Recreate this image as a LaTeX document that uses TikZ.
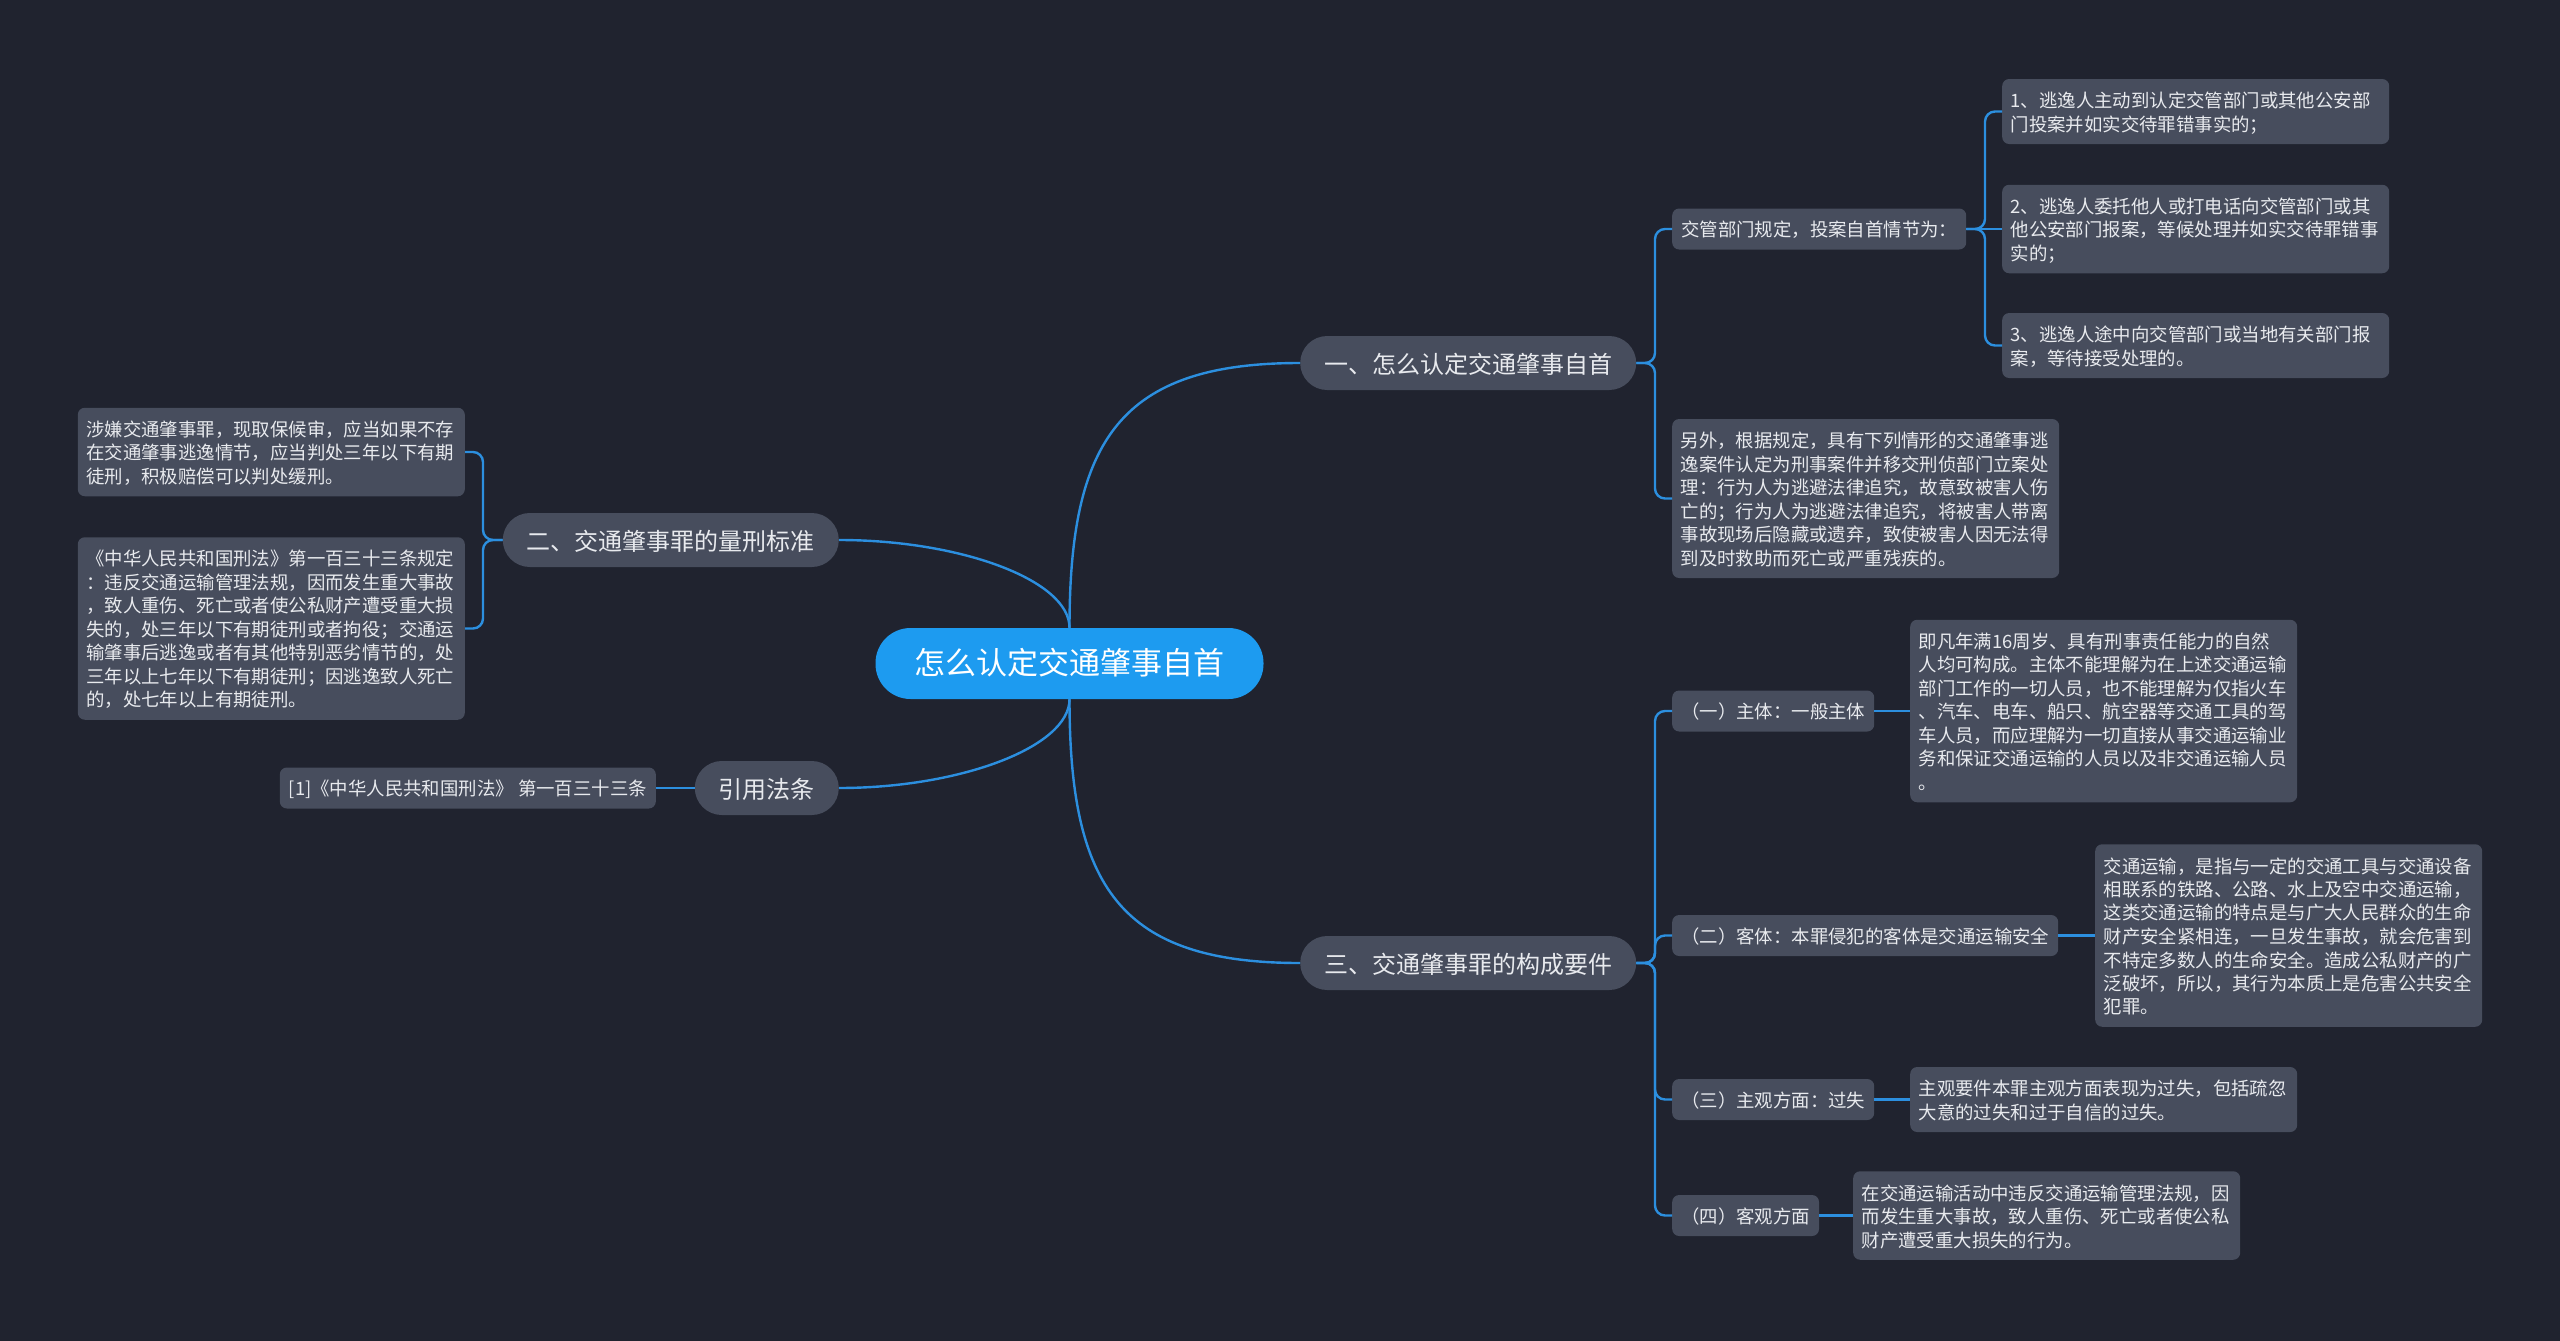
\documentclass[tikz,border=0pt]{standalone}
\usepackage{fontspec}
\setmainfont{Noto Sans CJK SC}
\definecolor{bg}{HTML}{20232F}
\definecolor{boxfill}{HTML}{474D5D}
\definecolor{centerfill}{HTML}{1D9BF0}
\definecolor{linec}{HTML}{2C8FDF}
\definecolor{txt}{HTML}{E8EAEE}
\newcommand\vstrut[2]{\vrule height #1\baselineskip depth #2\baselineskip width 0pt\relax}
\begin{document}
\begin{tikzpicture}[x=1pt,y=-1pt,
  connline/.style={draw=linec, line width=2.4pt, rounded corners=10pt},
  centerbox/.style={fill=centerfill, text=white, rounded corners=35pt, inner xsep=39pt, inner ysep=16.5pt, font=\fontsize{31}{38}\selectfont, execute at begin node={\vstrut{0.78}{0.22}}},
  topicbox/.style={fill=boxfill, text=txt, rounded corners=27pt, inner xsep=24pt, inner ysep=12pt, font=\fontsize{24}{30}\selectfont, execute at begin node={\vstrut{0.85}{0.15}}},
  subbox/.style={fill=boxfill, text=txt, rounded corners=7pt, inner xsep=9pt, inner ysep=8.75pt, font=\fontsize{18.4}{23.5}\selectfont, execute at begin node={\vstrut{0.84}{0.16}}},
  leafbox/.style={subbox, text width=370pt, align=left, inner xsep=8.5pt, inner ysep=9pt, execute at end node={\vstrut{0.84}{0.16}}},
]
\useasboundingbox (0,0) rectangle (2560,1341);
\fill[bg] (0,0) rectangle (2560,1341);

% center and topics
\node[centerbox] (C) at (1069.5,663.5) {怎么认定交通肇事自首};
\node[topicbox, anchor=west] (T1) at (1300,363) {一、怎么认定交通肇事自首};
\node[topicbox, anchor=east] (T2) at (839,540) {二、交通肇事罪的量刑标准};
\node[topicbox, anchor=east] (T3) at (839,788) {引用法条};
\node[topicbox, anchor=west] (T4) at (1300,963) {三、交通肇事罪的构成要件};

% branch one
\node[subbox, anchor=west] (A1) at (1672,229) {交管部门规定，投案自首情节为：};
\node[leafbox, anchor=west] (A2) at (1672,498.5) {另外，根据规定，具有下列情形的交通肇事逃\\逸案件认定为刑事案件并移交刑侦部门立案处\\理：行为人为逃避法律追究，故意致被害人伤\\亡的；行为人为逃避法律追究，将被害人带离\\事故现场后隐藏或遗弃，致使被害人因无法得\\到及时救助而死亡或严重残疾的。};
\node[leafbox, anchor=west] (B1) at (2002,111.5) {1、逃逸人主动到认定交管部门或其他公安部\\门投案并如实交待罪错事实的；};
\node[leafbox, anchor=west] (B2) at (2002,229) {2、逃逸人委托他人或打电话向交管部门或其\\他公安部门报案，等候处理并如实交待罪错事\\实的；};
\node[leafbox, anchor=west] (B3) at (2002,345.5) {3、逃逸人途中向交管部门或当地有关部门报\\案，等待接受处理的。};

% branch three
\node[subbox, anchor=west] (C1) at (1672,711) {（一）主体：一般主体};
\node[leafbox, anchor=west] (C1L) at (1910,711) {即凡年满16周岁、具有刑事责任能力的自然\\人均可构成。主体不能理解为在上述交通运输\\部门工作的一切人员，也不能理解为仅指火车\\、汽车、电车、船只、航空器等交通工具的驾\\车人员，而应理解为一切直接从事交通运输业\\务和保证交通运输的人员以及非交通运输人员\\。};
\node[subbox, anchor=west] (C2) at (1672,935.5) {（二）客体：本罪侵犯的客体是交通运输安全};
\node[leafbox, anchor=west] (C2L) at (2095,935.5) {交通运输，是指与一定的交通工具与交通设备\\相联系的铁路、公路、水上及空中交通运输，\\这类交通运输的特点是与广大人民群众的生命\\财产安全紧相连，一旦发生事故，就会危害到\\不特定多数人的生命安全。造成公私财产的广\\泛破坏，所以，其行为本质上是危害公共安全\\犯罪。};
\node[subbox, anchor=west] (C3) at (1672,1099.5) {（三）主观方面：过失};
\node[leafbox, anchor=west] (C3L) at (1910,1099.5) {主观要件本罪主观方面表现为过失，包括疏忽\\大意的过失和过于自信的过失。};
\node[subbox, anchor=west] (C4) at (1672,1215.5) {（四）客观方面};
\node[leafbox, anchor=west] (C4L) at (1853,1215.5) {在交通运输活动中违反交通运输管理法规，因\\而发生重大事故，致人重伤、死亡或者使公私\\财产遭受重大损失的行为。};

% branch two
\node[leafbox, anchor=east] (D1) at (465,452) {涉嫌交通肇事罪，现取保候审，应当如果不存\\在交通肇事逃逸情节，应当判处三年以下有期\\徒刑，积极赔偿可以判处缓刑。};
\node[leafbox, anchor=east] (D2) at (465,628.5) {《中华人民共和国刑法》第一百三十三条规定\\：违反交通运输管理法规，因而发生重大事故\\，致人重伤、死亡或者使公私财产遭受重大损\\失的，处三年以下有期徒刑或者拘役；交通运\\输肇事后逃逸或者有其他特别恶劣情节的，处\\三年以上七年以下有期徒刑；因逃逸致人死亡\\的，处七年以上有期徒刑。};

% citation
\node[subbox, anchor=east] (E1) at (656,788) {[1]《中华人民共和国刑法》 第一百三十三条};

% main curves
\draw[connline] (C.north) .. controls (1069.5,440) and (1120,363) .. (T1.west);
\draw[connline] (C.north) .. controls (1069.5,580) and (960,540) .. (T2.east);
\draw[connline] (C.south) .. controls (1069.5,747) and (960,788) .. (T3.east);
\draw[connline] (C.south) .. controls (1069.5,887) and (1120,963) .. (T4.west);

% junctions
\coordinate (j1) at (1655,363);
\coordinate (j2) at (1985,229);
\coordinate (j3) at (1655,963);
\coordinate (j4) at (483,540);

\draw[connline] (T1.east) -- (j1) |- (A1.west);
\draw[connline] (T1.east) -- (j1) |- (A2.west);
\draw[connline] (A1.east) -- (j2) |- (B1.west);
\draw[connline] (A1.east) -- (B2.west);
\draw[connline] (A1.east) -- (j2) |- (B3.west);

\draw[connline] (T4.east) -- (j3) |- (C1.west);
\draw[connline] (T4.east) -- (j3) |- (C2.west);
\draw[connline] (T4.east) -- (j3) |- (C3.west);
\draw[connline] (T4.east) -- (j3) |- (C4.west);
\draw[connline] (C1.east) -- (C1L.west);
\draw[connline] (C2.east) -- (C2L.west);
\draw[connline] (C3.east) -- (C3L.west);
\draw[connline] (C4.east) -- (C4L.west);

\draw[connline] (T2.west) -- (j4) |- (D1.east);
\draw[connline] (T2.west) -- (j4) |- (D2.east);
\draw[connline] (T3.west) -- (E1.east);
\end{tikzpicture}
\end{document}
